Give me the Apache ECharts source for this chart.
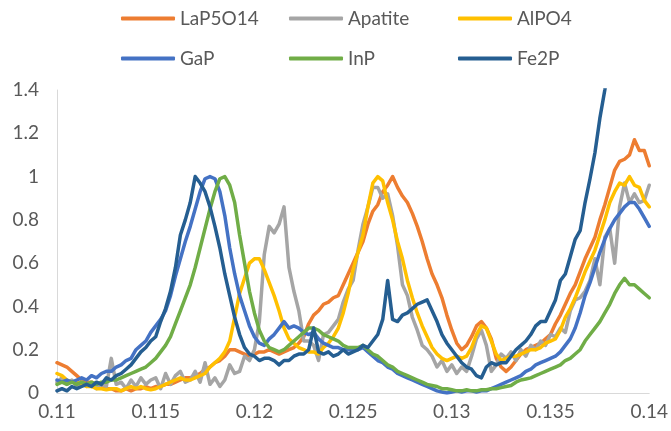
<!DOCTYPE html>
<html>
<head>
<meta charset="utf-8">
<script src="https://cdn.jsdelivr.net/npm/echarts@6/dist/echarts.min.js"></script>
<style>
html,body{margin:0;padding:0;background:#fff;}
#c{width:671px;height:431px;}
</style>
</head>
<body>
<div id="c"></div>
<script>
// x grid: 0.11 to 0.14, step 0.00025 (121 samples)
const xStart = 0.11;
const xStep = 0.00025;
const xTicks = [0.11, 0.115, 0.12, 0.125, 0.13, 0.135, 0.14];
const yTicks = [0, 0.2, 0.4, 0.6, 0.8, 1, 1.2, 1.4];
const seriesNames = ['LaP5O14', 'Apatite', 'AlPO4', 'GaP', 'InP', 'Fe2P'];

const LaP5O14 = [
0.14,0.13,0.12,0.10,0.08,0.06,0.05,0.05,0.04,0.03,
0.02,0.02,0.01,0.01,0.02,0.01,0.02,0.02,0.03,0.02,
0.03,0.03,0.04,0.04,0.05,0.06,0.07,0.07,0.08,0.09,
0.11,0.12,0.14,0.15,0.17,0.20,0.20,0.19,0.18,0.17,
0.18,0.19,0.19,0.20,0.19,0.18,0.19,0.20,0.21,0.23,
0.26,0.32,0.36,0.38,0.41,0.42,0.44,0.45,0.50,0.55,
0.60,0.65,0.70,0.78,0.84,0.87,0.93,0.96,1.00,0.95,
0.91,0.88,0.83,0.77,0.70,0.62,0.55,0.50,0.44,0.36,
0.29,0.23,0.20,0.22,0.26,0.31,0.33,0.30,0.25,0.16,
0.12,0.10,0.12,0.15,0.18,0.20,0.21,0.22,0.23,0.25,
0.27,0.32,0.36,0.41,0.46,0.50,0.56,0.62,0.67,0.72,
0.80,0.87,0.95,1.03,1.07,1.08,1.10,1.17,1.12,1.12,1.05];

const Apatite = [
0.05,0.07,0.04,0.06,0.03,0.05,0.03,0.04,0.02,0.04,
0.03,0.16,0.04,0.05,0.02,0.06,0.03,0.07,0.04,0.06,
0.07,0.02,0.09,0.04,0.08,0.10,0.05,0.06,0.10,0.05,
0.14,0.04,0.07,0.03,0.06,0.13,0.09,0.10,0.17,0.15,
0.20,0.33,0.64,0.77,0.74,0.78,0.86,0.58,0.47,0.38,
0.24,0.24,0.22,0.15,0.27,0.28,0.31,0.34,0.42,0.48,
0.52,0.66,0.78,0.86,0.95,0.95,0.90,0.92,0.82,0.68,
0.50,0.45,0.35,0.29,0.22,0.20,0.17,0.12,0.15,0.10,
0.13,0.09,0.12,0.10,0.17,0.25,0.29,0.22,0.10,0.13,
0.18,0.16,0.19,0.15,0.20,0.17,0.22,0.20,0.24,0.22,
0.27,0.26,0.30,0.28,0.38,0.43,0.44,0.47,0.52,0.62,
0.50,0.72,0.76,0.60,0.86,0.97,0.88,0.92,0.88,0.89,0.96];

const AlPO4 = [
0.09,0.08,0.06,0.05,0.05,0.04,0.03,0.03,0.02,0.02,
0.015,0.02,0.02,0.01,0.02,0.03,0.02,0.03,0.02,0.015,
0.02,0.03,0.04,0.05,0.06,0.07,0.06,0.06,0.07,0.08,
0.09,0.12,0.14,0.16,0.19,0.24,0.35,0.46,0.53,0.60,
0.62,0.62,0.57,0.51,0.45,0.38,0.30,0.25,0.23,0.21,
0.20,0.19,0.19,0.18,0.21,0.23,0.26,0.30,0.37,0.46,
0.57,0.65,0.73,0.86,0.97,1.00,0.98,0.88,0.80,0.70,
0.62,0.52,0.44,0.37,0.31,0.26,0.21,0.18,0.16,0.15,
0.16,0.17,0.16,0.17,0.21,0.27,0.31,0.30,0.24,0.18,
0.15,0.16,0.17,0.17,0.18,0.19,0.20,0.20,0.21,0.23,
0.24,0.25,0.29,0.35,0.39,0.44,0.50,0.56,0.61,0.66,
0.73,0.80,0.88,0.93,0.97,0.96,1.00,0.96,0.95,0.89,0.86];

const GaP = [
0.06,0.05,0.06,0.05,0.06,0.07,0.06,0.08,0.07,0.09,
0.10,0.10,0.12,0.13,0.15,0.16,0.20,0.22,0.24,0.28,
0.31,0.34,0.38,0.45,0.54,0.62,0.70,0.77,0.85,0.93,
0.99,1.00,0.99,0.93,0.82,0.67,0.55,0.45,0.38,0.31,
0.26,0.23,0.22,0.25,0.27,0.30,0.33,0.30,0.31,0.30,
0.28,0.27,0.28,0.25,0.23,0.22,0.21,0.21,0.20,0.20,
0.20,0.20,0.21,0.19,0.17,0.15,0.14,0.12,0.11,0.09,
0.08,0.07,0.06,0.05,0.04,0.03,0.02,0.01,0.005,0.00,
0.005,0.01,0.005,0.01,0.01,0.005,0.01,0.01,0.02,0.03,
0.04,0.05,0.06,0.07,0.08,0.10,0.11,0.13,0.14,0.15,
0.16,0.17,0.19,0.22,0.25,0.30,0.37,0.45,0.51,0.58,
0.65,0.71,0.76,0.80,0.83,0.86,0.88,0.88,0.85,0.81,0.77];

const InP = [
0.04,0.05,0.04,0.05,0.04,0.05,0.04,0.05,0.04,0.05,
0.05,0.06,0.06,0.07,0.08,0.09,0.10,0.11,0.12,0.14,
0.16,0.19,0.22,0.26,0.32,0.38,0.44,0.50,0.58,0.67,
0.76,0.85,0.93,0.99,1.00,0.96,0.88,0.73,0.60,0.47,
0.37,0.29,0.24,0.21,0.20,0.19,0.20,0.22,0.24,0.26,
0.28,0.30,0.30,0.29,0.27,0.26,0.25,0.24,0.22,0.21,
0.21,0.21,0.22,0.20,0.18,0.17,0.15,0.13,0.12,0.10,
0.09,0.08,0.07,0.06,0.05,0.04,0.035,0.03,0.02,0.02,
0.015,0.01,0.01,0.015,0.01,0.01,0.015,0.015,0.02,0.02,
0.025,0.03,0.035,0.05,0.06,0.065,0.07,0.08,0.09,0.10,
0.11,0.12,0.13,0.15,0.16,0.18,0.20,0.24,0.27,0.30,
0.33,0.37,0.41,0.46,0.50,0.53,0.50,0.50,0.48,0.46,0.44];

const Fe2P = [
0.01,0.02,0.01,0.03,0.02,0.03,0.04,0.03,0.05,0.04,
0.07,0.06,0.08,0.09,0.11,0.13,0.16,0.19,0.21,0.24,
0.26,0.33,0.39,0.47,0.58,0.73,0.80,0.88,1.00,0.97,
0.93,0.86,0.77,0.67,0.55,0.45,0.35,0.27,0.21,0.18,
0.17,0.15,0.16,0.16,0.15,0.13,0.15,0.15,0.17,0.18,
0.18,0.20,0.30,0.19,0.18,0.19,0.17,0.18,0.20,0.18,
0.19,0.20,0.22,0.21,0.24,0.27,0.34,0.52,0.34,0.33,
0.36,0.37,0.39,0.41,0.42,0.43,0.38,0.33,0.27,0.23,
0.20,0.17,0.14,0.12,0.11,0.08,0.07,0.12,0.14,0.13,
0.14,0.14,0.17,0.20,0.22,0.24,0.27,0.31,0.33,0.33,
0.38,0.43,0.52,0.55,0.63,0.71,0.75,0.88,0.99,1.11,
1.27,1.40,1.55,1.75,1.95,2.15,2.35,2.55,2.75,2.95,3.15];

const seriesValues = [LaP5O14, Apatite, AlPO4, GaP, InP, Fe2P];
const colors = ['#ED7D31', '#A5A5A5', '#FFC000', '#4472C4', '#70AD47', '#255E91'];

const FONT = 'Lato';
const TXT = '#595959';

function pairs(vals) {
  return vals.map((v, i) => [+(xStart + i * xStep).toFixed(5), v]);
}

const legendPos = [
  {left: 121, top: 9}, {left: 289, top: 9}, {left: 458, top: 9},
  {left: 121, top: 49}, {left: 289, top: 49}, {left: 458, top: 49}
];

const chart = echarts.init(document.getElementById('c'), null, {renderer: 'canvas'});
chart.setOption({
  animation: false,
  backgroundColor: '#ffffff',
  legend: seriesNames.map((n, i) => ({
    data: [n],
    left: legendPos[i].left,
    top: legendPos[i].top,
    padding: 0,
    icon: 'roundRect',
    itemWidth: 54,
    itemHeight: 4,
    selectedMode: false,
    textStyle: {fontFamily: FONT, fontSize: 19, color: TXT}
  })),
  grid: {left: 57, right: 21, top: 90, bottom: 38, containLabel: false},
  xAxis: {
    type: 'value',
    min: xTicks[0],
    max: xTicks[xTicks.length - 1],
    interval: 0.005,
    axisLine: {show: true, lineStyle: {color: '#D9D9D9', width: 1}},
    axisTick: {show: false},
    splitLine: {show: false},
    axisLabel: {
      color: TXT, fontFamily: FONT, fontSize: 19, margin: 9,
      formatter: v => String(+v.toFixed(3))
    }
  },
  yAxis: {
    type: 'value',
    min: yTicks[0],
    max: yTicks[yTicks.length - 1],
    interval: 0.2,
    axisLine: {show: true, lineStyle: {color: '#D9D9D9', width: 1}},
    axisTick: {show: false},
    splitLine: {show: false},
    axisLabel: {
      color: TXT, fontFamily: FONT, fontSize: 19, margin: 18,
      formatter: v => String(+v.toFixed(1))
    }
  },
  series: seriesNames.map((n, i) => ({
    name: n,
    type: 'line',
    data: pairs(seriesValues[i]),
    showSymbol: false,
    symbol: 'none',
    clip: true,
    lineStyle: {color: colors[i], width: 3.5, join: 'round', cap: 'round'},
    itemStyle: {color: colors[i]}
  }))
});
</script>
</body>
</html>
